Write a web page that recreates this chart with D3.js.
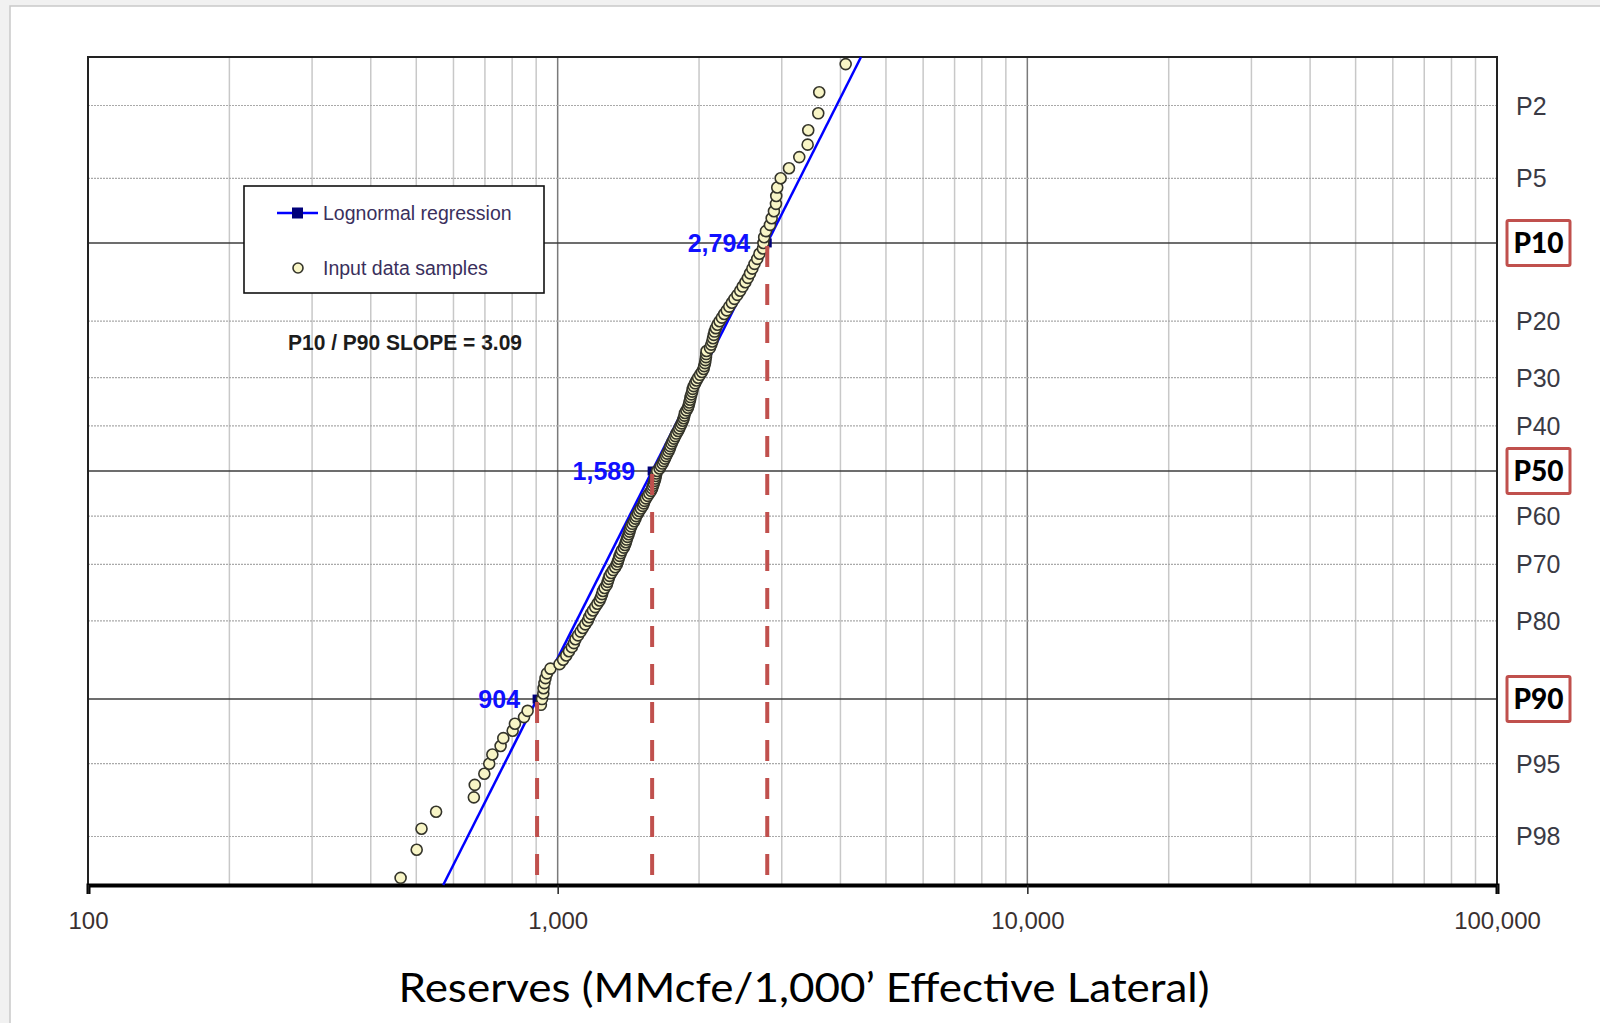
<!DOCTYPE html>
<html>
<head>
<meta charset="utf-8">
<script src="https://cdn.jsdelivr.net/npm/d3@7"></script>
<style>
  html, body { margin: 0; padding: 0; background: #f1f1f1; }
  svg { display: block; }
</style>
</head>
<body>
<svg id="chart" width="1600" height="1023"></svg>
<script>
// Well reserves per 1,000' lateral, ranked samples (ascending, MMcfe)
const sampleValues = [380, 463, 501, 513, 551, 663, 666, 698, 715, 726, 756, 766, 802, 811, 848, 863, 921,
  926, 932, 933, 937, 942, 949, 965,
  1009, 1027, 1043, 1057, 1072, 1083, 1091, 1105, 1119, 1132,
  1145, 1159, 1167, 1177, 1189, 1202, 1215, 1228, 1236, 1243,
  1249, 1259, 1272, 1278, 1284, 1290, 1301, 1313, 1326, 1337,
  1343, 1349, 1355, 1362, 1370, 1383, 1391, 1397, 1403, 1409,
  1416, 1422, 1427, 1434, 1443, 1455, 1464, 1470, 1482, 1492,
  1504, 1517, 1525, 1532, 1542, 1555, 1567, 1581, 1589, 1595,
  1602, 1609, 1614, 1618, 1622, 1629,
  1648, 1659, 1672, 1682, 1692, 1702, 1711, 1722, 1732, 1738,
  1748, 1758, 1769, 1780, 1790, 1805, 1815, 1826, 1837, 1847,
  1855, 1861, 1867, 1880, 1894, 1902, 1907, 1914, 1919, 1926,
  1934, 1939, 1948, 1962, 1975, 1991, 2010, 2029, 2045, 2051,
  2059, 2064, 2069, 2072, 2075, 2110, 2123, 2134, 2142, 2150,
  2158, 2172, 2189, 2212, 2237, 2263, 2291, 2319, 2349, 2379,
  2414, 2447, 2477, 2510, 2541, 2568, 2597, 2625, 2660, 2689,
  2736, 2742, 2752, 2776, 2831, 2855, 2887, 2916, 2920, 2934,
  2984, 3108, 3269, 3406, 3416, 3588, 3605, 4104, 4700];

// Lognormal regression percentiles (exceedance %) and values
const regressionPct = [90, 50, 10];
const regressionValues = [904, 1589, 2794];
const slopeText = "P10 / P90 SLOPE = 3.09";

// Axis ticks
const xTicks = [100, 1000, 10000, 100000];
const yTicks = [2, 5, 10, 20, 30, 40, 50, 60, 70, 80, 90, 95, 98];
const yMajor = [10, 50, 90];
const yDomainPct = [1, 99];

const xTitle = "Reserves (MMcfe/1,000\u2019 Effective Lateral)";
const legendLabels = ["Lognormal regression", "Input data samples"];

// Inverse standard normal CDF (Acklam)
function probit(p) {
  const a = [-3.969683028665376e+01, 2.209460984245205e+02, -2.759285104469687e+02, 1.383577518672690e+02, -3.066479806614716e+01, 2.506628277459239e+00];
  const b = [-5.447609879822406e+01, 1.615858368580409e+02, -1.556989798598866e+02, 6.680131188771972e+01, -1.328068155288572e+01];
  const c = [-7.784894002430293e-03, -3.223964580411365e-01, -2.400758277161838e+00, -2.549732539343734e+00, 4.374664141464968e+00, 2.938163982698783e+00];
  const d = [7.784695709041462e-03, 3.224671290700398e-01, 2.445134137142996e+00, 3.754408661907416e+00];
  const pl = 0.02425;
  if (p < pl) {
    const q = Math.sqrt(-2 * Math.log(p));
    return (((((c[0]*q+c[1])*q+c[2])*q+c[3])*q+c[4])*q+c[5]) / ((((d[0]*q+d[1])*q+d[2])*q+d[3])*q+1);
  }
  if (p <= 1 - pl) {
    const q = p - 0.5, r = q * q;
    return (((((a[0]*r+a[1])*r+a[2])*r+a[3])*r+a[4])*r+a[5])*q / (((((b[0]*r+b[1])*r+b[2])*r+b[3])*r+b[4])*r+1);
  }
  const q = Math.sqrt(-2 * Math.log(1 - p));
  return -(((((c[0]*q+c[1])*q+c[2])*q+c[3])*q+c[4])*q+c[5]) / ((((d[0]*q+d[1])*q+d[2])*q+d[3])*q+1);
}

const plot = { left: 88, right: 1497, top: 57, bottom: 885 };

const svg = d3.select("#chart");

// page frame
svg.append("rect").attr("x", 10).attr("y", 6).attr("width", 1600).attr("height", 1030)
  .attr("fill", "#ffffff").attr("stroke", "#c9c9c9").attr("stroke-width", 1.5);

const x = d3.scaleLog().domain([100, 100000]).range([plot.left, plot.right]);
// probability axis: exceedance % -> standard normal score -> pixels
const zScale = d3.scaleLinear()
  .domain([probit(1 - yDomainPct[1] / 100), probit(1 - yDomainPct[0] / 100)])
  .range([plot.bottom, plot.top]);
const y = pct => zScale(probit(1 - pct / 100));

const g = svg.append("g");

// minor vertical grid
const minorX = [];
for (let dec = 100; dec < 100000; dec *= 10) {
  for (let k = 2; k <= 9; k++) minorX.push(dec * k);
}
g.selectAll(".vminor").data(minorX).join("line")
  .attr("x1", d => x(d)).attr("x2", d => x(d))
  .attr("y1", plot.top).attr("y2", plot.bottom)
  .attr("stroke", "#c8c8c8").attr("stroke-width", 1.5);

g.selectAll(".vmajor").data([1000, 10000]).join("line")
  .attr("x1", d => x(d)).attr("x2", d => x(d))
  .attr("y1", plot.top).attr("y2", plot.bottom)
  .attr("stroke", "#7a7a7a").attr("stroke-width", 1.5);

// horizontal grid
g.selectAll(".hminor").data(yTicks.filter(d => !yMajor.includes(d))).join("line")
  .attr("x1", plot.left).attr("x2", plot.right)
  .attr("y1", d => y(d)).attr("y2", d => y(d))
  .attr("stroke", "#a9a9a9").attr("stroke-width", 1.2).attr("stroke-dasharray", "2,1");

g.selectAll(".hmajor").data(yMajor).join("line")
  .attr("x1", plot.left).attr("x2", plot.right)
  .attr("y1", d => y(d)).attr("y2", d => y(d))
  .attr("stroke", "#3c3c3c").attr("stroke-width", 1.6);

// plot frame
g.append("rect").attr("x", plot.left).attr("y", plot.top)
  .attr("width", plot.right - plot.left).attr("height", plot.bottom - plot.top)
  .attr("fill", "none").attr("stroke", "#222").attr("stroke-width", 2);

// x axis
const xAxis = d3.axisBottom(x).tickValues(xTicks).tickFormat(d3.format(",")).tickSize(9).tickPadding(18);
const ax = g.append("g").attr("transform", `translate(0,${plot.bottom})`).call(xAxis);
ax.select(".domain").attr("stroke", "#000").attr("stroke-width", 4);
ax.selectAll(".tick line").attr("stroke", "#222").attr("stroke-width", 1.5);
ax.selectAll(".tick text").attr("fill", "#3a3030")
  .style("font-family", "'Liberation Sans', Arial, sans-serif").style("font-size", "24px");

// right probability labels
const yLab = g.append("g");
yLab.selectAll(".plain").data(yTicks.filter(d => !yMajor.includes(d))).join("text")
  .attr("x", 1516).attr("y", d => y(d)).attr("dy", "0.36em")
  .attr("fill", "#3a3a44")
  .style("font-family", "'Liberation Sans', Arial, sans-serif").style("font-size", "25px")
  .text(d => "P" + d);

const boxed = yLab.selectAll(".boxed").data(yMajor).join("g")
  .attr("transform", d => `translate(1538.5,${y(d)})`);
boxed.append("rect").attr("x", -31.5).attr("y", -22.5).attr("width", 63).attr("height", 45)
  .attr("rx", 1.5).attr("fill", "#fff").attr("stroke", "#c0504d").attr("stroke-width", 3);
boxed.append("text").attr("text-anchor", "middle").attr("dy", "0.36em")
  .attr("fill", "#000").style("font-family", "Lato, 'Open Sans', sans-serif")
  .style("font-weight", "900").style("font-size", "28px")
  .text(d => "P" + d);

// lognormal regression line across the full probability range
const lnVals = regressionValues.map(Math.log);
const zVals = regressionPct.map(p => probit(1 - p / 100));
const sigma = (lnVals[2] - lnVals[0]) / (zVals[2] - zVals[0]);
const mu = lnVals[1];
const lineEnds = yDomainPct.map(p => ({ pct: p, v: Math.exp(mu + sigma * probit(1 - p / 100)) }));
const lineGen = d3.line().x(d => x(d.v)).y(d => y(d.pct));
g.append("path").datum(lineEnds).attr("d", lineGen)
  .attr("fill", "none").attr("stroke", "#0000ff").attr("stroke-width", 2.5);

const regPts = regressionPct.map((p, i) => ({ pct: p, v: regressionValues[i] }));
g.selectAll(".regmark").data(regPts).join("rect")
  .attr("x", d => x(d.v) - 4.5).attr("y", d => y(d.pct) - 4.5)
  .attr("width", 9).attr("height", 9).attr("fill", "#00007a");

// input samples at Weibull plotting positions
const N = sampleValues.length;
const samples = sampleValues.map((v, i) => ({ v, pct: 100 * (1 - (i + 1) / (N + 1)) }))
  .filter(d => d.pct >= yDomainPct[0] && d.pct <= yDomainPct[1]);
g.selectAll(".sample").data(samples).join("circle")
  .attr("cx", d => x(d.v)).attr("cy", d => y(d.pct)).attr("r", 5.5)
  .attr("fill", "#f8f5c6").attr("stroke", "#34342a").attr("stroke-width", 1.6);

// dashed drop lines from each percentile to the axis
g.selectAll(".drop").data(regPts).join("line")
  .attr("x1", d => x(d.v)).attr("x2", d => x(d.v))
  .attr("y1", d => y(d.pct) + 3).attr("y2", plot.bottom - 2)
  .attr("stroke", "#c0504d").attr("stroke-width", 4).attr("stroke-dasharray", "21,17");

// percentile value labels
g.selectAll(".reglabel").data(regPts).join("text")
  .attr("x", d => x(d.v) - 17).attr("y", d => y(d.pct)).attr("dy", "0.36em")
  .attr("text-anchor", "end").attr("fill", "#1010ff")
  .style("font-family", "'Liberation Sans', Arial, sans-serif").style("font-weight", "bold").style("font-size", "25px")
  .text(d => d3.format(",")(d.v));

// legend
const lg = g.append("g");
lg.append("rect").attr("x", 244).attr("y", 186).attr("width", 300).attr("height", 107)
  .attr("fill", "#fff").attr("stroke", "#111").attr("stroke-width", 1.6);
lg.append("line").attr("x1", 277).attr("x2", 318).attr("y1", 213).attr("y2", 213)
  .attr("stroke", "#0000ff").attr("stroke-width", 2.5);
lg.append("rect").attr("x", 292).attr("y", 207.5).attr("width", 11).attr("height", 11).attr("fill", "#00007a");
lg.append("circle").attr("cx", 298).attr("cy", 268).attr("r", 5)
  .attr("fill", "#f8f5c6").attr("stroke", "#34342a").attr("stroke-width", 1.6);
lg.selectAll(".lgtext").data(legendLabels).join("text")
  .attr("x", 323).attr("y", (d, i) => 213 + i * 55).attr("dy", "0.36em")
  .attr("fill", "#3a2f5c")
  .style("font-family", "'Liberation Sans', Arial, sans-serif").style("font-size", "19.5px")
  .text(d => d);

g.append("text").attr("x", 288).attr("y", 342).attr("dy", "0.36em")
  .attr("fill", "#1c1c1c")
  .attr("textLength", 234).attr("lengthAdjust", "spacingAndGlyphs")
  .style("font-family", "'Liberation Sans', Arial, sans-serif").style("font-weight", "bold").style("font-size", "22.5px")
  .text(slopeText);

// axis title
g.append("text").attr("x", 804).attr("y", 988).attr("dy", "0.36em").attr("text-anchor", "middle")
  .attr("fill", "#000")
  .attr("textLength", 811).attr("lengthAdjust", "spacingAndGlyphs")
  .style("font-family", "Lato, 'Open Sans', sans-serif").style("font-size", "40px")
  .text(xTitle);
</script>
</body>
</html>
